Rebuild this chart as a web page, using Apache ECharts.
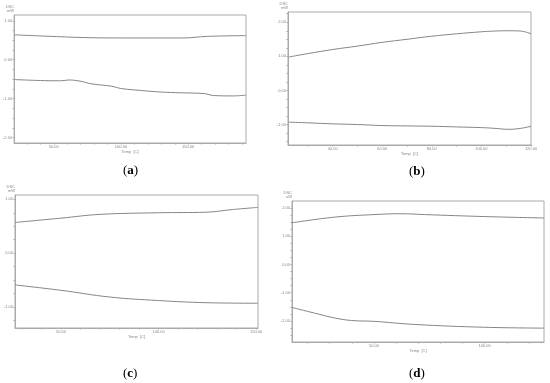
<!DOCTYPE html>
<html><head><meta charset="utf-8">
<script src="https://cdn.jsdelivr.net/npm/echarts@6/dist/echarts.min.js"></script>
<style>html,body{margin:0;padding:0;background:#fff}#c{width:550px;height:383px}</style>
</head><body><div id="c"></div>
<script>
// Panel (a)
const aUpperX = [20.8, 48.6, 73.0, 97.5, 122.0, 146.5, 163.7, 192.9];
const aUpperY = [0.64, 0.60, 0.57, 0.56, 0.56, 0.56, 0.60, 0.62];
const aLowerX = [20.8, 36.5, 50, 56, 61, 69.6, 78.2, 92.9, 100.2, 115, 129.7, 144.4, 162, 168.9, 183.6, 192.9];
const aLowerY = [-0.51, -0.53, -0.54, -0.54, -0.52, -0.55, -0.62, -0.68, -0.74, -0.79, -0.83, -0.85, -0.87, -0.92, -0.93, -0.91];
const aXLabels = [50, 100, 150];
const aYLabels = [1, 0, -1, -2];
// Panel (b)
const bX = [22.3, 30, 40, 50, 60, 70, 80, 90, 100, 105, 111, 116, 120];
const bUpperY = [0.98, 1.08, 1.20, 1.30, 1.41, 1.50, 1.59, 1.66, 1.72, 1.74, 1.75, 1.74, 1.66];
const bLowerY = [-0.93, -0.95, -0.98, -1.00, -1.03, -1.04, -1.05, -1.07, -1.09, -1.11, -1.14, -1.11, -1.05];
const bXLabels = [40, 60, 80, 100, 120];
const bYLabels = [2, 1, 0, -1];
// Panel (c)
const cUpperX = [26.4, 50, 70, 100, 124.3, 137.9, 151];
const cUpperY = [0.57, 0.65, 0.72, 0.75, 0.76, 0.81, 0.85];
const cLowerX = [26.4, 50, 75, 100, 124.3, 151];
const cLowerY = [-0.59, -0.69, -0.815, -0.88, -0.92, -0.93];
const cXLabels = [50, 100, 150];
const cYLabels = [1, 0, -1];
// Panel (d)
const dUpperX = [13, 32.2, 50, 62.3, 72.9, 100, 126.8];
const dUpperY = [1.47, 1.67, 1.76, 1.79, 1.76, 1.69, 1.64];
const dLowerX = [13, 23.2, 32.2, 39.8, 50, 68.4, 100, 126.8];
const dLowerY = [-1.52, -1.72, -1.89, -1.98, -2.01, -2.12, -2.22, -2.25];
const dXLabels = [50, 100];
const dYLabels = [2, 1, 0, -1, -2];

const axisGray = '#aaa', txtGray = '#888', lineGray = '#858585';
function range(a, b, s) { const r = []; for (let v = Math.ceil(a / s) * s; v <= b + 1e-9; v += s) r.push(+v.toFixed(4)); return r; }
function xAx(i, min, max, labels, step) {
  return { type: 'value', gridIndex: i, min, max, name: 'Temp  [C]', nameLocation: 'middle', nameGap: 7,
    nameTextStyle: { fontSize: 4, color: txtGray },
    axisLine: { onZero: false, lineStyle: { color: axisGray, width: 1 } },
    axisTick: { length: 1.5, lineStyle: { color: axisGray }, customValues: range(min, max, step) },
    axisLabel: { fontSize: 4, color: txtGray, margin: 2, customValues: labels, formatter: v => v.toFixed(2) },
    splitLine: { show: false } };
}
function yAx(i, min, max, labels, step, unit) {
  return { type: 'value', gridIndex: i, min, max, name: 'DSC\n' + unit, nameLocation: 'end', nameGap: 2,
    nameTextStyle: { fontSize: 4, color: txtGray, align: 'right', lineHeight: 4 },
    axisLine: { show: true, onZero: false, lineStyle: { color: axisGray, width: 1 } },
    axisTick: { show: true, length: 1.5, lineStyle: { color: axisGray }, customValues: range(min, max, step) },
    axisLabel: { fontSize: 4, color: txtGray, margin: 2, customValues: labels, formatter: v => v.toFixed(2) },
    splitLine: { show: false } };
}
function ser(i, xs, ys) {
  return { type: 'line', xAxisIndex: i, yAxisIndex: i, data: xs.map((x, k) => [x, ys[k]]), showSymbol: false,
    smooth: 0.4, lineStyle: { color: lineGray, width: 1 }, silent: true, animation: false };
}
const gridBase = { show: true, borderColor: axisGray, borderWidth: 1, containLabel: false };
const chart = echarts.init(document.getElementById('c'), null, { renderer: 'canvas' });
const cap = (l, x, y) => ({ type: 'text', left: x, top: y, style: { text: '({b|' + l + '})', rich: { b: { fontWeight: 'bold', fontFamily: 'Liberation Serif', fontSize: 13, fill: '#000' } }, fontFamily: 'Liberation Serif', fontSize: 13, fill: '#000' } });
chart.setOption({
  animation: false,
  grid: [
    Object.assign({ left: 12, top: 15, width: 234, height: 128 }, gridBase),
    Object.assign({ left: 288, top: 12, width: 243, height: 133 }, gridBase),
    Object.assign({ left: 15, top: 195, width: 243, height: 133 }, gridBase),
    Object.assign({ left: 292, top: 201, width: 252, height: 141 }, gridBase)
  ],
  xAxis: [
    xAx(0, 20.5, 193, aXLabels, 10),
    xAx(1, 22, 120, bXLabels, 10),
    xAx(2, 26.4, 151, cXLabels, 10),
    xAx(3, 13, 126.8, dXLabels, 10)
  ],
  yAxis: [
    yAx(0, -2.14, 1.15, aYLabels, 0.25, 'mW'),
    yAx(1, -1.60, 2.30, bYLabels, 0.25, 'mW'),
    yAx(2, -1.39, 1.08, cYLabels, 0.25, 'mW'),
    yAx(3, -2.74, 2.24, dYLabels, 0.25, 'uW')
  ],
  series: [
    ser(0, aUpperX, aUpperY), ser(0, aLowerX, aLowerY),
    ser(1, bX, bUpperY), ser(1, bX, bLowerY),
    ser(2, cUpperX, cUpperY), ser(2, cLowerX, cLowerY),
    ser(3, dUpperX, dUpperY), ser(3, dLowerX, dLowerY)
  ],
  graphic: [cap('a', 123, 164), cap('b', 409, 165), cap('c', 123, 367), cap('d', 409, 367)]
});
</script></body></html>
